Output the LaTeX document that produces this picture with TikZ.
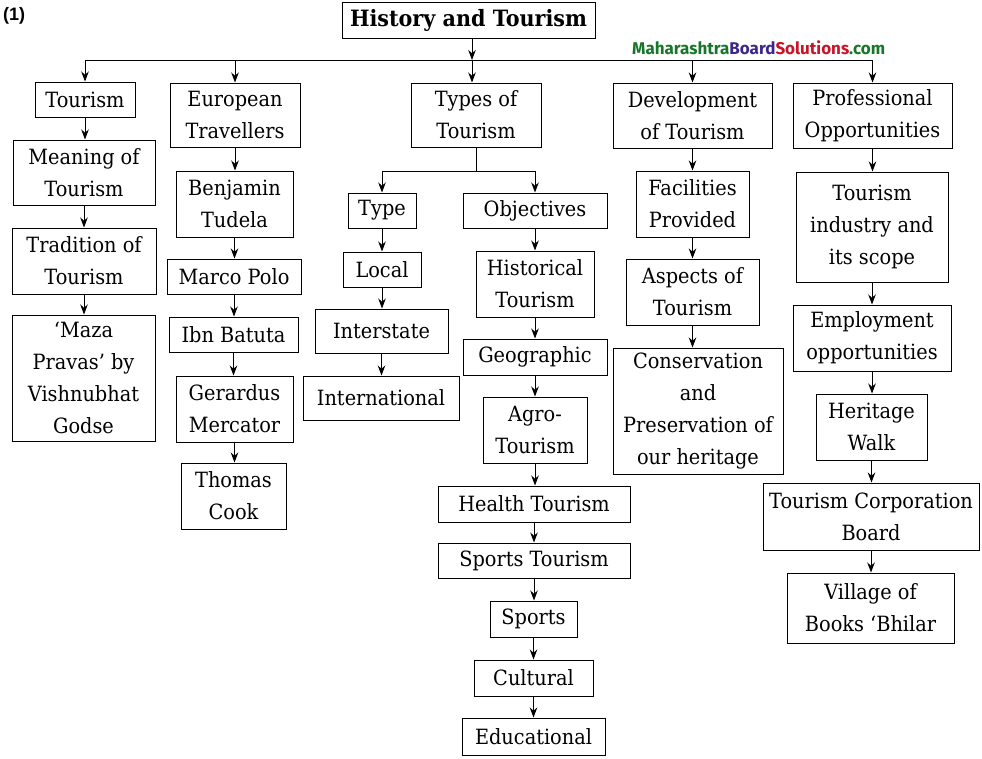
\documentclass[tikz,border=0pt]{standalone}
\usepackage{fontspec}
\usepackage{graphicx}
\usetikzlibrary{arrows.meta}
\setmainfont{DejaVu Serif}[FakeStretch=0.92]
\newfontfamily\wmfont{Fira Sans}
\newfontfamily\numfont{Liberation Sans}
\definecolor{wmgreen}{RGB}{24,118,42}
\definecolor{wmblue}{RGB}{58,38,140}
\definecolor{wmred}{RGB}{200,20,40}
\tikzset{
  box/.style={draw, line width=1pt, inner sep=0pt, align=center,
    font=\fontsize{21}{32}\selectfont},
  titlebox/.style={draw, line width=1pt, inner sep=0pt, align=center,
    font=\bfseries\fontsize{22.5}{26}\selectfont},
  arr/.style={-{Stealth[length=10pt,width=7.5pt]}, line width=0.9pt},
  conn/.style={line width=0.9pt}
}
\newcommand\bx[6]{\node[box, minimum width={#4-#2}, minimum height={#5-#3}] (#1) at ({(#2+#4)/2},{(#3+#5)/2}) {#6};}
\begin{document}
\begin{tikzpicture}[x=1pt,y=-1pt]
\useasboundingbox (0,0) rectangle (982,758);
% label and watermark
\node[font=\numfont\bfseries\fontsize{18}{20}\selectfont, anchor=west, inner sep=0pt] (num) at (3,16) {(1)};
\node[anchor=west, inner sep=0pt] (wm) at (632,48) {\resizebox{253pt}{!}{\wmfont\bfseries\textcolor{wmgreen}{Maharashtra}\textcolor{wmblue}{Board}\textcolor{wmred}{Solutions}\textcolor{wmgreen}{.com}}};
% title
\node[titlebox, minimum width=253, minimum height=36] (title) at (468.5,20) {History and Tourism};
% column 1
\bx{t1}{35}{82}{135}{117}{Tourism}
\bx{t2}{13}{140}{155}{205}{Meaning of\\Tourism}
\bx{t3}{12}{228}{156}{294}{Tradition of\\Tourism}
\bx{t4}{12}{315}{155}{441}{‘Maza\\Pravas’ by\\Vishnubhat\\Godse}
% column 2
\bx{e1}{170}{83}{300}{147}{European\\Travellers}
\bx{e2}{176}{171}{293}{237}{Benjamin\\Tudela}
\bx{e3}{167}{259}{301}{294}{Marco Polo}
\bx{e4}{169}{317}{298}{352}{Ibn Batuta}
\bx{e5}{176}{376}{293}{442}{Gerardus\\Mercator}
\bx{e6}{181}{463}{286}{529}{Thomas\\Cook}
% column 3
\bx{y0}{411}{83}{541}{147}{Types of\\Tourism}
\bx{y1}{348}{193}{416}{228}{Type}
\bx{y2}{343}{252}{421}{287}{Local}
\bx{y3}{315}{309}{448}{353}{Interstate}
\bx{y4}{303}{376}{459}{420}{International}
\bx{o1}{463}{193}{607}{228}{Objectives}
\bx{o2}{476}{251}{594}{317}{Historical\\Tourism}
\bx{o3}{463}{339}{607}{375}{Geographic}
\bx{o4}{483}{397}{587}{463}{Agro-\\Tourism}
\bx{o5}{438}{486}{630}{522}{Health Tourism}
\bx{o6}{438}{543}{630}{578}{Sports Tourism}
\bx{o7}{490}{601}{577}{637}{Sports}
\bx{o8}{474}{660}{593}{696}{Cultural}
\bx{o9}{462}{718}{605}{755}{Educational}
% column 4
\bx{d1}{613}{83}{772}{148}{Development\\of Tourism}
\bx{d2}{636}{171}{749}{237}{Facilities\\Provided}
\bx{d3}{626}{259}{759}{325}{Aspects of\\Tourism}
\bx{d4}{613}{348}{783}{474}{Conservation\\and\\Preservation of\\our heritage}
% column 5
\bx{p1}{793}{83}{952}{148}{Professional\\Opportunities}
\bx{p2}{796}{172}{948}{282}{Tourism\\industry and\\its scope}
\bx{p3}{793}{305}{951}{371}{Employment\\opportunities}
\bx{p4}{816}{394}{927}{460}{Heritage\\Walk}
\bx{p5}{763}{483}{979}{550}{Tourism Corporation\\Board}
\bx{p6}{787}{573}{954}{643}{Village of\\Books ‘Bhilar}
% top distribution
\coordinate (hub) at (472,60);
\draw[arr] (title.south -| hub) -- (hub);
\draw[conn] (t1.north |- hub) -- (p1.north |- hub);
\foreach \n in {t1,e1,d1,p1} \draw[arr] (\n.north |- hub) -- (\n.north);
\draw[arr] (hub) -- (hub |- y0.north);
% split under Types of Tourism
\coordinate (split) at (476,171);
\draw[conn] (y0.south) -- (split);
\draw[conn] (y1.north |- split) -- (o1.north |- split);
\draw[arr] (y1.north |- split) -- (y1.north);
\draw[arr] (o1.north |- split) -- (o1.north);
% chains
\foreach \a/\b in {t1/t2,t2/t3,t3/t4,e1/e2,e2/e3,e3/e4,e4/e5,e5/e6,y1/y2,y2/y3,y3/y4,o1/o2,o2/o3,o3/o4,o4/o5,o5/o6,o6/o7,o7/o8,o8/o9,d1/d2,d2/d3,d3/d4,p1/p2,p2/p3,p3/p4,p4/p5,p5/p6}
  \draw[arr] (\a.south) -- (\a.south |- \b.north);
\end{tikzpicture}
\end{document}
